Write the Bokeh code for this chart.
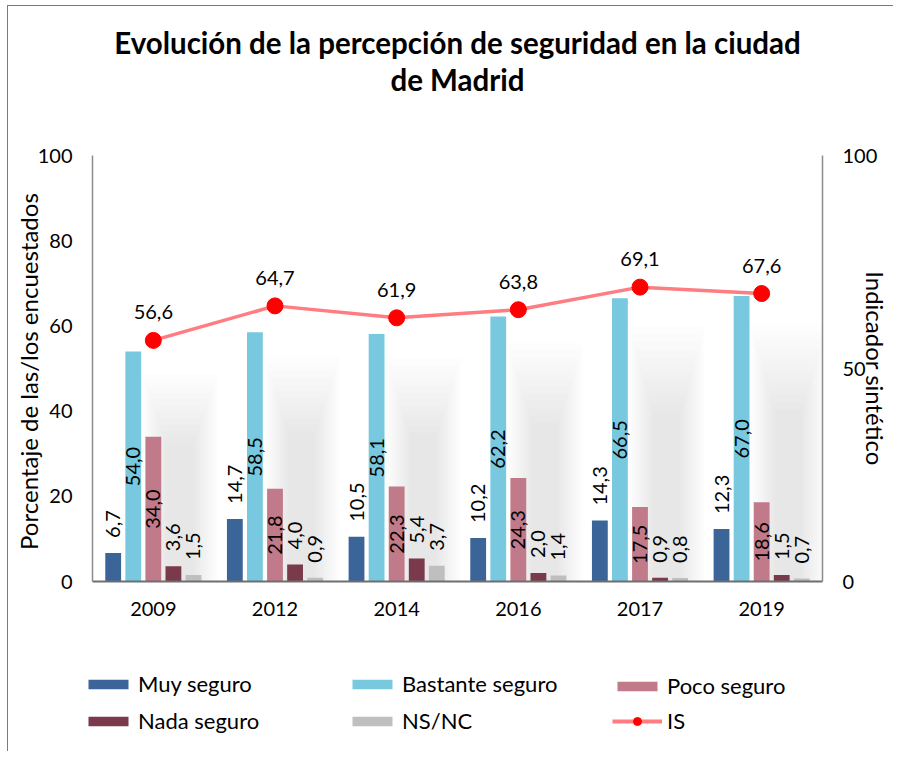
import math
from bokeh.plotting import figure
from bokeh.layouts import column
from bokeh.models import (ColumnDataSource, FactorRange, Range1d, LinearAxis, FixedTicker,
                          LabelSet, Legend, LegendItem, Title)
from bokeh.transform import dodge
from bokeh.core.properties import value
from bokeh.embed import file_html
from bokeh.resources import INLINE

# ---------------- data ----------------
years = ["2009", "2012", "2014", "2016", "2017", "2019"]
muy_seguro = [6.7, 14.7, 10.5, 10.2, 14.3, 12.3]
bastante_seguro = [54.0, 58.5, 58.1, 62.2, 66.5, 67.0]
poco_seguro = [34.0, 21.8, 22.3, 24.3, 17.5, 18.6]
nada_seguro = [3.6, 4.0, 5.4, 2.0, 0.9, 1.5]
ns_nc = [1.5, 0.9, 3.7, 1.4, 0.8, 0.7]
indicador_is = [56.6, 64.7, 61.9, 63.8, 69.1, 67.6]
left_ticks = [0, 20, 40, 60, 80, 100]
right_ticks = [0, 50, 100]

title_lines = ["Evolución de la percepción de seguridad en la ciudad", "de Madrid"]
left_title = "Porcentaje de  las/los encuestados"
right_title = "Indicador sintético"

FONT = "Lato"

series = [
    ("Muy seguro", "muy", "#3B6499", -2),
    ("Bastante seguro", "bastante", "#78C9DF", -1),
    ("Poco seguro", "poco", "#C07A89", 0),
    ("Nada seguro", "nada", "#7A3A4B", 1),
    ("NS/NC", "ns", "#BFBFBF", 2),
]
IS_LINE = "#FF7C80"
IS_DOT = "#FF0000"


def fmt(v):
    return f"{v:.1f}".replace(".", ",")


# ---------------- layout constants (pixels) ----------------
W = 893
FRAME_L, FRAME_R, FRAME_T, FRAME_B = 92, 828, 155, 581
H1 = 640                 # main chart height
H2 = 111                 # legend strip height

p = figure(x_range=FactorRange(*years), y_range=Range1d(0, 100),
           width=W, height=H1, output_backend="svg", toolbar_location=None,
           min_border_left=FRAME_L, min_border_right=W - FRAME_R, min_border_top=FRAME_T,
           min_border_bottom=H1 - FRAME_B)
p.frame_align = False
p.outline_line_color = None
p.xgrid.visible = False
p.ygrid.visible = False
p.background_fill_color = None
p.border_fill_color = None

p.extra_y_ranges = {"is": Range1d(0, 100)}
raxis = LinearAxis(y_range_name="is", ticker=FixedTicker(ticks=right_ticks))
p.add_layout(raxis, "right")

laxis = p.yaxis[0]
laxis.ticker = FixedTicker(ticks=left_ticks)
for ax in [laxis, raxis]:
    ax.axis_line_color = "#8C8C8C"
    ax.axis_line_width = 1.5
    ax.major_label_standoff = 20
for ax in p.axis:
    ax.major_tick_line_color = None
    ax.minor_tick_line_color = None
    ax.major_tick_out = 0
    ax.major_tick_in = 0
    ax.major_label_text_font = FONT
    ax.major_label_text_font_size = "20px"
    ax.major_label_text_color = "black"
    ax.axis_label_text_font = FONT
    ax.axis_label_text_font_size = "24px"
    ax.axis_label_text_font_style = "normal"
    ax.axis_label_text_color = "black"
laxis.axis_label = left_title
laxis.axis_label_standoff = -8
raxis.axis_label = right_title
raxis.axis_label_standoff = -19
p.xaxis.axis_line_color = "#6E6E6E"
p.xaxis.axis_line_width = 2
p.xaxis.major_label_standoff = 20

# title: an empty spacer next to the frame, then the two title lines
title_style = dict(align="center", text_font=FONT, text_font_size="29.5px",
                   text_font_style="bold", text_color="black")
p.add_layout(Title(text="\u00a0", standoff=22, **title_style), "above")
p.add_layout(Title(text=title_lines[1], standoff=0, **title_style), "above")
p.add_layout(Title(text=title_lines[0], standoff=0, **title_style), "above")

src = ColumnDataSource(dict(
    year=years,
    muy=muy_seguro, bastante=bastante_seguro, poco=poco_seguro, nada=nada_seguro, ns=ns_nc,
    is_=indicador_is,
    muy_t=[fmt(v) for v in muy_seguro],
    bastante_t=[fmt(v) for v in bastante_seguro],
    poco_t=[fmt(v) for v in poco_seguro],
    nada_t=[fmt(v) for v in nada_seguro],
    ns_t=[fmt(v) for v in ns_nc],
    is_t=[fmt(v) for v in indicador_is],
    bastante_mid=[v / 2 for v in bastante_seguro],
    poco_mid=[v / 2 for v in poco_seguro],
))

# soft shadow behind the groups (stacked translucent boxes derived from the tall bar)
n_sh = 12
for i in range(n_sh):
    t = i / (n_sh - 1)
    w = 0.62 - 0.40 * t
    f = 0.90 - 0.30 * t
    src.data[f"sh{i}"] = [v * f for v in bastante_seguro]
    p.vbar(x=dodge("year", 0.22, range=p.x_range), top=f"sh{i}", width=w, source=src,
           fill_color="#808080", fill_alpha=0.017, line_color=None)

PITCH = 0.165
BW = 0.13
for name, col, color, k in series:
    p.vbar(x=dodge("year", k * PITCH, range=p.x_range), top=col, width=BW,
           source=src, fill_color=color, line_color=None)

# data labels
for name, col, color, k in series:
    xs = dodge("year", k * PITCH, range=p.x_range)
    if col in ("bastante", "poco"):
        ls = LabelSet(x=xs, y=f"{col}_mid", text=f"{col}_t", source=src, angle=math.pi / 2,
                      text_align="center", text_baseline="middle",
                      text_font=value(FONT), text_font_size=value("20px"), text_color="black")
    else:
        ls = LabelSet(x=xs, y=col, text=f"{col}_t", source=src, angle=math.pi / 2,
                      text_align="left", text_baseline="middle", y_offset=15,
                      text_font=value(FONT), text_font_size=value("20px"), text_color="black")
    p.add_layout(ls)

# IS line
p.line(x="year", y="is_", source=src, y_range_name="is", line_color=IS_LINE, line_width=3.5)
p.scatter(x="year", y="is_", source=src, y_range_name="is", size=16,
          fill_color=IS_DOT, line_color=IS_DOT)
p.add_layout(LabelSet(x="year", y="is_", text="is_t", source=src, y_range_name="is",
                      text_align="center", text_baseline="bottom", y_offset=21,
                      text_font=value(FONT), text_font_size=value("20px"), text_color="black"))

# ---------------- legend strip ----------------
q = figure(width=W, height=H2, output_backend="svg", toolbar_location=None,
           x_range=Range1d(0, 1), y_range=Range1d(0, 1),
           min_border_left=0, min_border_right=0, min_border_top=0, min_border_bottom=0)
q.frame_align = False
q.axis.visible = False
q.grid.visible = False
q.outline_line_color = None
q.background_fill_color = None
q.border_fill_color = None

# legend-only renderers, their single point lies outside the visible range
leg_r = {}
for name, col, color, k in series:
    leg_r[col] = q.vbar(x=[5], top=[1], width=0.1, fill_color=color, line_color=None)
lr = q.line(x=[5, 6], y=[5, 5], line_color=IS_LINE, line_width=4)
dr = q.scatter(x=[5], y=[5], size=14, fill_color=IS_DOT, line_color=IS_DOT)

leg_common = dict(glyph_width=50, label_height=24, label_standoff=5, spacing=10, padding=0,
                  margin=0, border_line_color=None, background_fill_alpha=0,
                  label_text_font=FONT, label_text_font_size="22px", label_text_color="black",
                  orientation="vertical")
legend_specs = [
    ([("Muy seguro", [leg_r["muy"]]), ("Nada seguro", [leg_r["nada"]])], (83, 17), 12),
    ([("Bastante seguro", [leg_r["bastante"]]), ("NS/NC", [leg_r["ns"]])], (347, 17), 12),
    ([("Poco seguro", [leg_r["poco"]])], (612, 52), 12),
    ([("IS", [lr, dr])], (612, 17), 20),
]
for its, loc, gh in legend_specs:
    lg = Legend(items=[LegendItem(label=lab, renderers=rs) for lab, rs in its],
                location=loc, glyph_height=gh, **leg_common)
    q.add_layout(lg)

layout = column(p, q, spacing=0)
layout.styles = {
    "background-image": "linear-gradient(#5E7EB8,#5E7EB8), linear-gradient(#5E7EB8,#5E7EB8)",
    "background-size": "1px 100%, 100% 1px",
    "background-position": "7px 5px, 7px 5px",
    "background-repeat": "no-repeat",
}

open("out.html", "w").write(file_html(layout, INLINE))
